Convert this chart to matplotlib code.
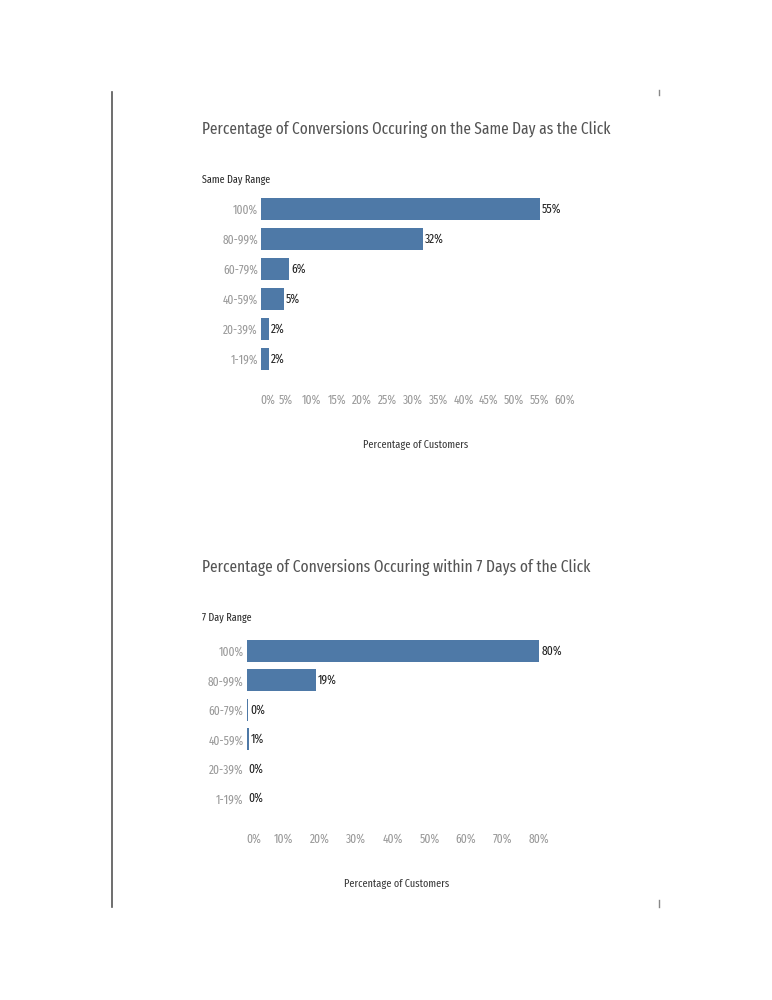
import os
import matplotlib.pyplot as plt
import matplotlib.font_manager as fm
from matplotlib.transforms import offset_copy

ranges = ["100%", "80-99%", "60-79%", "40-59%", "20-39%", "1-19%"]
same_day = [55.0, 32.0, 5.6, 4.6, 1.6, 1.7]
seven_day = [80.0, 19.0, 0.4, 0.7, 0.0, 0.0]
same_day_ticks = list(range(0, 61, 5))
seven_day_ticks = list(range(0, 81, 10))

bar_color = "#4e79a7"
W, H = 772, 1000


# look for a condensed face, the original uses a very narrow font
def pick_font():
	bad = ["bold", "light", "medium", "thin", "black", "italic", "oblique", "heavy"]
	best = None
	for f in fm.fontManager.ttflist:
		fn = os.path.basename(f.fname).lower().replace("-", "").replace("_", "")
		if any(b in fn for b in bad):
			continue
		if "extracondensed" in fn:
			score = 3
		elif "semicondensed" in fn:
			score = 1
		elif "condensed" in fn or "narrow" in fn:
			score = 2
		else:
			continue
		if best is None or score > best[0]:
			best = (score, f.fname)
	if best:
		return fm.FontProperties(fname=best[1])
	return fm.FontProperties(family="DejaVu Sans")


fp = pick_font()

fig = plt.figure(figsize=(W / 100, H / 100), dpi=100)
renderer = fig.canvas.get_renderer()


def fit_size(s, target_px):
	t = fig.text(0, 0, s, fontproperties=fp, fontsize=10)
	w = t.get_window_extent(renderer).width
	t.remove()
	return 10 * target_px / w


tick_fs = fit_size("55%", 19)
ylab_fs = fit_size("100%", 25)
val_fs = fit_size("55%", 19)
axis_fs = fit_size("Percentage of Customers", 105)
range_fs = fit_size("Same Day Range", 68)


def px_box(left, top, right, bottom):
	return [left / W, 1 - bottom / H, (right - left) / W, (bottom - top) / H]


def draw_chart(box, values, ticks, xmax, title, title_w, title_base, range_label, range_y, xlabel_y):
	ax = fig.add_axes(px_box(*box))
	y = list(range(len(ranges)))
	ax.barh(y, values, height=0.74, color=bar_color)
	ax.set_ylim(len(ranges) - 0.5, -0.5)
	ax.set_xlim(0, xmax)
	ax.set_yticks(y)
	ax.set_yticklabels(ranges, color="#9a9a9a", fontproperties=fp, fontsize=ylab_fs)
	ax.set_xticks(ticks)
	ax.set_xticklabels(["%d%%" % t for t in ticks], color="#9a9a9a",
					   fontproperties=fp, fontsize=tick_fs)
	ax.get_xticklabels()[0].set_horizontalalignment('left')
	ax.tick_params(length=0)
	ax.tick_params(axis='y', pad=2)
	ax.tick_params(axis='x', pad=14)
	for s in ax.spines.values():
		s.set_visible(False)
	ax.patch.set_alpha(0)
	lbl_tr = offset_copy(ax.transData, fig=fig, x=1.5, y=0, units='points')
	for i, v in enumerate(values):
		ax.text(v, i, "%.0f%%" % v, transform=lbl_tr, va='center', ha='left',
				fontproperties=fp, fontsize=val_fs, color="#222222")
	fig.text(202 / W, 1 - title_base / H, title, fontproperties=fp,
			 fontsize=fit_size(title, title_w), color="#555555",
			 va='baseline', ha='left')
	fig.text(202 / W, 1 - range_y / H, range_label, fontproperties=fp,
			 fontsize=range_fs, color="#2a2a2a", va='center', ha='left')
	cx = (box[0] + box[2]) / 2
	fig.text(cx / W, 1 - xlabel_y / H, "Percentage of Customers", fontproperties=fp,
			 fontsize=axis_fs, color="#3a3a3a", va='center', ha='center')
	return ax


draw_chart((260.7, 194, 570, 374), same_day, same_day_ticks, 61,
		   "Percentage of Conversions Occuring on the Same Day as the Click", 410, 134,
		   "Same Day Range", 180, 445)
draw_chart((246.5, 636, 546.5, 813), seven_day, seven_day_ticks, 82,
		   "Percentage of Conversions Occuring within 7 Days of the Click", 390, 572,
		   "7 Day Range", 618, 884)

# scanned page edges
fig.add_artist(plt.Line2D([112 / W, 112 / W], [1 - 92 / H, 1 - 907 / H],
						  color="#555555", lw=1.2))
fig.add_artist(plt.Line2D([659 / W, 659 / W], [1 - 90 / H, 1 - 95 / H],
						  color="#888888", lw=1))
fig.add_artist(plt.Line2D([659 / W, 659 / W], [1 - 900 / H, 1 - 907 / H],
						  color="#888888", lw=1))

fig.savefig("out.png", dpi=100)
